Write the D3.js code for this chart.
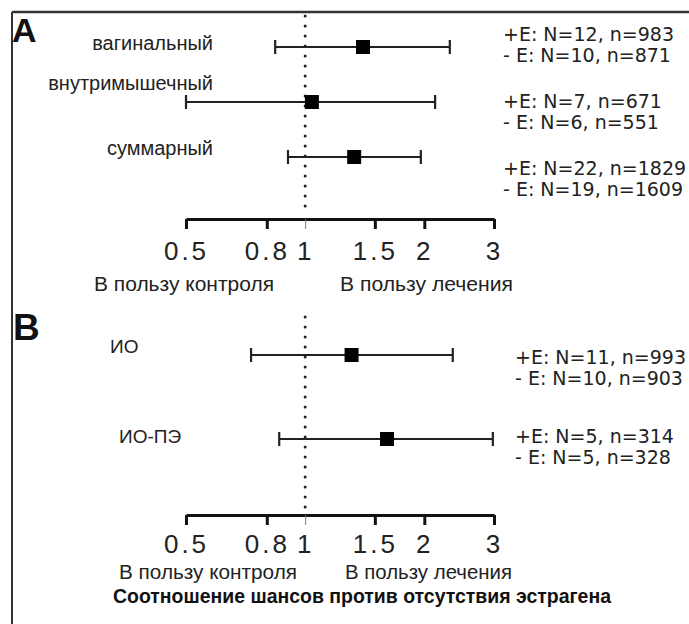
<!DOCTYPE html>
<html><head><meta charset="utf-8">
<script src="https://cdn.jsdelivr.net/npm/d3@7"></script>
<style>
html,body{margin:0;padding:0;background:#fff;}
svg{display:block;}
</style>
</head><body>
<svg id="chart" width="689" height="624"></svg>
<script>
// ---- data ----
const tickValues = [0.5, 0.8, 1, 1.5, 2, 3];
const tickLabels = ["0.5", "0.8", "1", "1.5", "2", "3"];

const groupsA = ["вагинальный", "внутримышечный", "суммарный"];
const orA = [1.40, 1.04, 1.33];
const loA = [0.84, 0.50, 0.905];
const hiA = [2.32, 2.13, 1.96];
const plusA = ["+E: N=12, n=983", "+E: N=7, n=671", "+E: N=22, n=1829"];
const minusA = ["- E: N=10, n=871", "- E: N=6, n=551", "- E: N=19, n=1609"];

const groupsB = ["ИО", "ИО-ПЭ"];
const orB = [1.31, 1.61];
const loB = [0.73, 0.86];
const hiB = [2.36, 2.98];
const plusB = ["+E: N=11, n=993", "+E: N=5, n=314"];
const minusB = ["- E: N=10, n=903", "- E: N=5, n=328"];

const favourLabels = ["В пользу контроля", "В пользу лечения"];
const xTitle = "Соотношение шансов против отсутствия эстрагена";
const panelLetters = ["A", "B"];

// ---- layout ----
const svg = d3.select("#chart");
const x = d3.scaleLog().domain([0.5, 3]).range([186, 494]);
const ink = "#222";

// frame
svg.append("line").attr("x1", 12).attr("x2", 689).attr("y1", 12).attr("y2", 12)
  .attr("stroke", "#333").attr("stroke-width", 2.5);
svg.append("line").attr("x1", 12).attr("x2", 12).attr("y1", 12).attr("y2", 624)
  .attr("stroke", "#333").attr("stroke-width", 2);

function panel(cfg) {
  const g = svg.append("g");
  const y = d3.scalePoint().domain(cfg.groups).range(cfg.yRange);

  // panel letter
  g.append("text").attr("x", cfg.letterX).attr("y", cfg.letterY)
    .attr("font-family", "Liberation Sans, Arial, sans-serif")
    .attr("font-weight", "bold").attr("font-size", cfg.letterSize)
    .attr("fill", "#111").text(cfg.letter);

  // reference dotted line
  g.append("line").attr("x1", x(1)).attr("x2", x(1))
    .attr("y1", cfg.refTop).attr("y2", cfg.refBottom)
    .attr("stroke", ink).attr("stroke-width", 3)
    .attr("stroke-linecap", "round").attr("stroke-dasharray", "0 10");

  // axis
  const axis = d3.axisBottom(x).tickValues(tickValues)
    .tickFormat((d, i) => tickLabels[i]).tickSize(10).tickSizeOuter(0);
  const ag = g.append("g").attr("transform", `translate(0,${cfg.axisY})`).call(axis);
  ag.select(".domain").attr("stroke", "#111").attr("stroke-width", 3);
  ag.selectAll(".tick line")
    .attr("stroke", d => d === 1 ? "#777" : "#111")
    .attr("stroke-width", d => d === 1 ? 1 : 3);
  ag.selectAll(".tick text")
    .attr("y", cfg.tickTextDy).attr("dy", null)
    .attr("font-family", "Liberation Sans, Arial, sans-serif")
    .attr("font-size", 26).attr("letter-spacing", "3px")
    .attr("fill", ink);

  // favour labels
  favourLabels.forEach((t, i) => {
    g.append("text").attr("x", cfg.favX[i]).attr("y", cfg.favY)
      .attr("font-family", "Liberation Sans Narrow, Arial Narrow, Liberation Sans, sans-serif")
      .attr("font-size", 20).attr("fill", ink)
      .attr("textLength", cfg.favW[i]).attr("lengthAdjust", "spacingAndGlyphs")
      .text(t);
  });

  // rows
  cfg.groups.forEach((grp, i) => {
    const yy = y(grp);
    // CI line
    g.append("line").attr("x1", x(cfg.lo[i])).attr("x2", x(cfg.hi[i]))
      .attr("y1", yy).attr("y2", yy).attr("stroke", "#222").attr("stroke-width", 2.2);
    [cfg.lo[i], cfg.hi[i]].forEach(v => {
      g.append("line").attr("x1", x(v)).attr("x2", x(v))
        .attr("y1", yy - 7).attr("y2", yy + 7)
        .attr("stroke", "#222").attr("stroke-width", 2.2);
    });
    // point
    g.append("rect").attr("x", x(cfg.or[i]) - 7).attr("y", yy - 7)
      .attr("width", 14).attr("height", 14).attr("fill", "#000");
    // group label
    g.append("text").attr("x", cfg.labelX[i]).attr("y", yy + cfg.labelDy[i])
      .attr("text-anchor", cfg.labelAnchor)
      .attr("font-family", "Liberation Sans, Arial, sans-serif")
      .attr("font-size", cfg.labelSize).attr("fill", ink).text(grp);
    // counts
    g.append("text").attr("x", cfg.countX).attr("y", yy + cfg.countDy[i])
      .attr("font-family", "DejaVu Sans, Verdana, sans-serif")
      .attr("font-size", 19).attr("fill", ink).text(cfg.plus[i]);
    g.append("text").attr("x", cfg.countX).attr("y", yy + cfg.countDy[i] + 21)
      .attr("font-family", "DejaVu Sans, Verdana, sans-serif")
      .attr("font-size", 19).attr("fill", ink).text(cfg.minus[i]);
  });
}

panel({
  letter: panelLetters[0], letterX: 12, letterY: 42, letterSize: 34,
  groups: groupsA, or: orA, lo: loA, hi: hiA, plus: plusA, minus: minusA,
  yRange: [47, 157], refTop: 16, refBottom: 213, axisY: 219, tickTextDy: 41,
  favX: [94, 340], favW: [180, 173], favY: 291,
  labelX: [213, 213, 213], labelAnchor: "end", labelDy: [3, -12, -2], labelSize: 20,
  countX: 503, countDy: [-6, 6, 18]
});

panel({
  letter: panelLetters[1], letterX: 13, letterY: 340, letterSize: 37,
  groups: groupsB, or: orB, lo: loB, hi: hiB, plus: plusB, minus: minusB,
  yRange: [355, 439], refTop: 317, refBottom: 508, axisY: 515, tickTextDy: 38,
  favX: [119, 345], favW: [178, 167], favY: 579,
  labelX: [110, 119], labelAnchor: "start", labelDy: [-2, 4], labelSize: 19,
  countX: 515, countDy: [9, 4]
});

// x title
svg.append("text").attr("x", 113).attr("y", 603)
  .attr("font-family", "Liberation Sans Narrow, Arial Narrow, Liberation Sans, sans-serif")
  .attr("font-weight", "bold").attr("font-size", 20).attr("fill", "#111")
  .attr("textLength", 498).attr("lengthAdjust", "spacingAndGlyphs")
  .text(xTitle);
</script>
</body></html>
